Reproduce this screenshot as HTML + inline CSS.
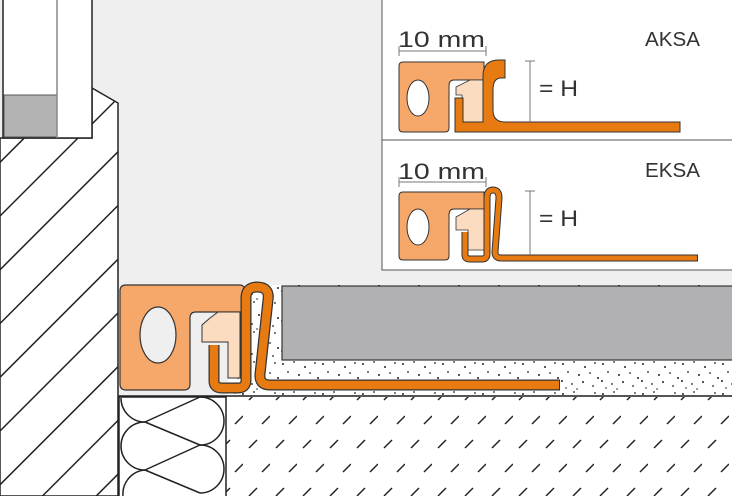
<!DOCTYPE html>
<html><head><meta charset="utf-8"><style>
html,body{margin:0;padding:0;background:#efefef}
svg{display:block}
text{font-family:"Liberation Sans",sans-serif;fill:#333}
</style></head><body>
<svg width="732" height="496" viewBox="0 0 732 496" xmlns="http://www.w3.org/2000/svg">
<defs>
<pattern id="hatch" patternUnits="userSpaceOnUse" width="38" height="38" patternTransform="rotate(45)">
<rect width="38" height="38" fill="#fff"/>
<line x1="0" y1="0" x2="0" y2="38" stroke="#222" stroke-width="3"/>
</pattern>
<pattern id="dash" patternUnits="userSpaceOnUse" width="27" height="48">
<rect width="27" height="48" fill="#fff"/>
<line x1="6" y1="16" x2="14" y2="8" stroke="#222" stroke-width="1.5"/>
<line x1="19" y1="40" x2="27" y2="32" stroke="#222" stroke-width="1.5"/>
</pattern>
<pattern id="dots" patternUnits="userSpaceOnUse" width="40" height="30">
<rect width="40" height="30" fill="#fff"/>
<g fill="#222">
<circle cx="3" cy="4" r="1"/><circle cx="14" cy="2" r="0.9"/><circle cx="25" cy="7" r="1"/><circle cx="35" cy="3" r="0.9"/>
<circle cx="8" cy="12" r="0.9"/><circle cx="19" cy="15" r="1"/><circle cx="30" cy="13" r="0.9"/><circle cx="38" cy="18" r="1"/>
<circle cx="2" cy="21" r="1"/><circle cx="12" cy="24" r="0.9"/><circle cx="23" cy="22" r="1"/><circle cx="33" cy="26" r="0.9"/>
<circle cx="17" cy="29" r="0.8"/><circle cx="6" cy="28" r="0.8"/>
</g>
</pattern>
</defs>
<rect width="732" height="496" fill="#efefef"/>
<rect x="382" y="-2" width="352" height="272" fill="#fff" stroke="#555" stroke-width="1"/>
<line x1="382" y1="140" x2="732" y2="140" stroke="#555" stroke-width="1"/>
<polygon points="92,88 118,103 118,496 0,496 0,138 92,138" fill="url(#hatch)" stroke="#222" stroke-width="1.5"/>
<rect x="3" y="-2" width="89" height="140" fill="#fff" stroke="#222" stroke-width="1.5"/>
<rect x="4" y="95" width="53" height="42" fill="#b3b3b3" stroke="#555" stroke-width="1"/>
<line x1="57" y1="0" x2="57" y2="138" stroke="#888" stroke-width="1.5"/>
<rect x="228" y="285" width="506" height="110" fill="url(#dots)"/>
<rect x="282" y="286" width="452" height="74" fill="#b1b1b3" stroke="#333" stroke-width="1.2"/>
<line x1="118" y1="396" x2="732" y2="396" stroke="#222" stroke-width="1.5"/>
<rect x="226" y="397" width="508" height="100" fill="url(#dash)"/>
<rect x="119" y="397" width="107" height="100" fill="#fff" stroke="#222" stroke-width="1.5"/>
<g fill="none" stroke="#222" stroke-width="1.5">
<line x1="145" y1="422" x2="200" y2="397"/>
<line x1="145" y1="422" x2="200" y2="445"/>
<line x1="145" y1="470" x2="200" y2="445"/>
<line x1="145" y1="470" x2="200" y2="493"/>
<path d="M200,397 A24,24 0 0 1 200,445"/>
<path d="M200,445 A24,24 0 0 1 200,493"/>
<path d="M145,422 A24,24 0 0 0 145,470"/>
<path d="M121,398 A24,24 0 0 0 145,422"/>
<path d="M145,470 A24,24 0 0 0 123,496"/>
</g>
<path d="M126,285 L240,285 Q245,285 245,292 L245,312 L196,312 Q190,312 190,318 L190,384 Q190,390 184,390 L126,390 Q120,390 120,384 L120,291 Q120,285 126,285 Z" fill="#f6a86a" stroke="#333" stroke-width="1.2"/>
<ellipse cx="158" cy="335" rx="18" ry="28" fill="#efefef" stroke="#333" stroke-width="1.2"/>
<path d="M218,312 L240,312 L240,378 L228,378 L228,342 L202,342 L202,325 L210,318 Z" fill="#fbdcc0" stroke="#333" stroke-width="1"/>
<path d="M214,345 L214,381 Q214,388 222,388 L238,388 Q246,388 246,380 L246,298 Q246,287 257,287 Q270,287 268,300 L260,374 Q259,385 270,385 L560,385" fill="none" stroke="#333" stroke-width="11" stroke-linejoin="round"/>
<path d="M214,345 L214,381 Q214,388 222,388 L238,388 Q246,388 246,380 L246,298 Q246,287 257,287 Q270,287 268,300 L260,374 Q259,385 270,385 L559,385" fill="none" stroke="#e87a12" stroke-width="8.5" stroke-linejoin="round"/>
<text x="398" y="47" font-size="22" textLength="87" lengthAdjust="spacingAndGlyphs">10 mm</text>
<line x1="399" y1="51" x2="486" y2="51" stroke="#777"/><line x1="399" y1="46" x2="399" y2="56" stroke="#777"/><line x1="486" y1="46" x2="486" y2="56" stroke="#777"/>
<text x="645" y="46" font-size="20" textLength="55" lengthAdjust="spacingAndGlyphs">AKSA</text>
<path d="M403,62 L484,62 L484,80 L454,80 Q449,80 449,86 L449,128 Q449,132 445,132 L403,132 Q399,132 399,128 L399,66 Q399,62 403,62 Z" fill="#f6a86a" stroke="#333" stroke-width="1"/>
<ellipse cx="418" cy="98" rx="11" ry="18" fill="#fff" stroke="#333"/>
<path d="M470,80 L485,80 L485,122 L462,122 L462,95 L456,95 L456,87 Z" fill="#fbdcc0" stroke="#333" stroke-width="0.8"/>
<path d="M455,98 L463,98 L463,122 L483,122 L483,76 Q483,60 499,60 L505,60 L505,78 L501,78 Q493,78 493,90 L493,110 Q493,122 505,122 L680,122 L680,132 L455,132 Z" fill="#e87a12" stroke="#333" stroke-width="1"/>
<line x1="530" y1="61" x2="530" y2="122" stroke="#777"/><line x1="525" y1="61" x2="535" y2="61" stroke="#777"/>
<text x="539" y="96" font-size="22" textLength="39" lengthAdjust="spacingAndGlyphs">= H</text>
<text x="398" y="179" font-size="22" textLength="87" lengthAdjust="spacingAndGlyphs">10 mm</text>
<line x1="399" y1="182" x2="486" y2="182" stroke="#777"/><line x1="399" y1="177" x2="399" y2="187" stroke="#777"/><line x1="486" y1="177" x2="486" y2="187" stroke="#777"/>
<text x="645" y="177" font-size="20" textLength="55" lengthAdjust="spacingAndGlyphs">EKSA</text>
<path d="M403,192 L484,192 L484,209 L454,209 Q449,209 449,215 L449,256 Q449,260 445,260 L403,260 Q399,260 399,256 L399,196 Q399,192 403,192 Z" fill="#f6a86a" stroke="#333" stroke-width="1"/>
<ellipse cx="418" cy="227" rx="11" ry="18" fill="#fff" stroke="#333"/>
<path d="M470,209 L485,209 L485,250 L468,250 L468,230 L456,230 L456,217 Z" fill="#fbdcc0" stroke="#333" stroke-width="0.8"/>
<path d="M465,232 L465,255 Q465,259 470,259 L482,259 Q487,259 487,254 L487,198 Q487,190 493,190 Q499,190 499,198 L495,252 Q495,258 501,258 L698,258" fill="none" stroke="#333" stroke-width="7" stroke-linejoin="round"/>
<path d="M465,232 L465,255 Q465,259 470,259 L482,259 Q487,259 487,254 L487,198 Q487,190 493,190 Q499,190 499,198 L495,252 Q495,258 501,258 L697,258" fill="none" stroke="#e87a12" stroke-width="5" stroke-linejoin="round"/>
<line x1="530" y1="191" x2="530" y2="255" stroke="#777"/><line x1="525" y1="191" x2="535" y2="191" stroke="#777"/>
<text x="539" y="226" font-size="22" textLength="39" lengthAdjust="spacingAndGlyphs">= H</text>
</svg>
</body></html>
